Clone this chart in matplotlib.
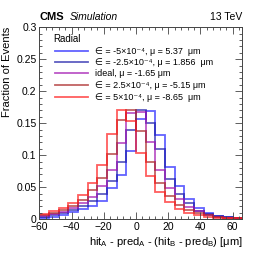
import numpy as np
import matplotlib
matplotlib.use("Agg")
import matplotlib.pyplot as plt
from matplotlib.ticker import MultipleLocator, FuncFormatter

plt.rcParams['font.family'] = ['Liberation Sans', 'DejaVu Sans']
plt.rcParams['mathtext.fontset'] = 'custom'
plt.rcParams['mathtext.rm'] = 'Liberation Sans'
plt.rcParams['mathtext.it'] = 'Liberation Sans:italic'
plt.rcParams['mathtext.default'] = 'regular'

# binning of the residual histograms (um)
edges = np.arange(-60, 67, 6)

# fraction of events per bin
frac_m5 = [0.002, 0.004, 0.007, 0.011, 0.016, 0.020, 0.028, 0.048, 0.069, 0.106, 0.156,
           0.169, 0.131, 0.082, 0.052, 0.032, 0.017, 0.009, 0.0055, 0.004, 0.0025]
frac_m25 = [0.004, 0.006, 0.009, 0.014, 0.021, 0.028, 0.040, 0.060, 0.090, 0.140, 0.170,
            0.151, 0.110, 0.062, 0.039, 0.025, 0.013, 0.008, 0.005, 0.003, 0.002]
frac_ideal = [0.005, 0.008, 0.011, 0.017, 0.025, 0.035, 0.052, 0.077, 0.119, 0.166, 0.168,
              0.120, 0.076, 0.048, 0.031, 0.019, 0.012, 0.007, 0.004, 0.0025, 0.0015]
frac_p25 = [0.006, 0.010, 0.0135, 0.020, 0.030, 0.045, 0.064, 0.102, 0.155, 0.170, 0.138,
            0.090, 0.057, 0.036, 0.022, 0.014, 0.009, 0.006, 0.003, 0.002, 0.001]
frac_p5 = [0.008, 0.012, 0.017, 0.025, 0.038, 0.056, 0.084, 0.133, 0.170, 0.154, 0.104,
           0.067, 0.043, 0.027, 0.016, 0.010, 0.006, 0.004, 0.0025, 0.0015, 0.001]

labels = ['∈ = -5×10⁻⁴, μ = 5.37  μm',
          '∈ = -2.5×10⁻⁴, μ = 1.856  μm',
          'ideal, μ = -1.65 μm',
          '∈ = 2.5×10⁻⁴, μ = -5.15 μm',
          '∈ = 5×10⁻⁴, μ = -8.65  μm']
series = [frac_m5, frac_m25, frac_ideal, frac_p25, frac_p5]
colores = ['#2020ff', '#1a1aa8', '#a010b0', '#a82020', '#ff1a1a']

fig = plt.figure(figsize=(2.66, 2.59), dpi=100)
ax = fig.add_axes([0.148, 0.154, 0.763, 0.741])

for vals, c in zip(series, colores):
    ax.stairs(vals, edges, color=c, lw=1.3, alpha=0.7, baseline=0)

ax.set_xlim(-60, 66)
ax.set_ylim(0, 0.3)
ax.xaxis.set_major_locator(MultipleLocator(20))
ax.xaxis.set_minor_locator(MultipleLocator(4))
ax.yaxis.set_major_locator(MultipleLocator(0.05))
ax.yaxis.set_minor_locator(MultipleLocator(0.01))
ax.yaxis.set_major_formatter(FuncFormatter(lambda v, p: '%g' % round(v, 3)))
ax.tick_params(which='both', direction='in', top=True, right=True, labelsize=7.5,
               width=0.6, color='#444444', pad=2)
ax.tick_params(which='major', length=5)
ax.tick_params(which='minor', length=2.5)
for s in ax.spines.values():
    s.set_linewidth(0.7)
    s.set_color('#444444')

ax.set_ylabel('Fraction of Events', fontsize=8, loc='top', labelpad=3)
ax.set_xlabel('hit$_{A}$ - pred$_{A}$ - (hit$_{B}$ - pred$_{B}$) [μm]', fontsize=8,
              loc='right', labelpad=2)

# header
ax.text(0.0, 1.025, 'CMS', transform=ax.transAxes, fontsize=8, fontweight='bold',
        ha='left', va='bottom')
ax.text(0.15, 1.025, 'Simulation', transform=ax.transAxes, fontsize=7.5, style='italic',
        ha='left', va='bottom')
ax.text(1.0, 1.025, '13 TeV', transform=ax.transAxes, fontsize=7.5, ha='right', va='bottom')

# legend drawn by hand
ax.text(0.067, 0.9375, 'Radial', transform=ax.transAxes, fontsize=7, ha='left', va='center')
filas = [0.875, 0.818, 0.760, 0.698, 0.635]
for y, c, lab in zip(filas, colores, labels):
    ax.plot([0.077, 0.24], [y, y], transform=ax.transAxes, color=c, lw=1.3, alpha=0.7)
    ax.text(0.274, y, lab, transform=ax.transAxes, fontsize=6.5, ha='left', va='center')

fig.savefig('out.png', dpi=100)
